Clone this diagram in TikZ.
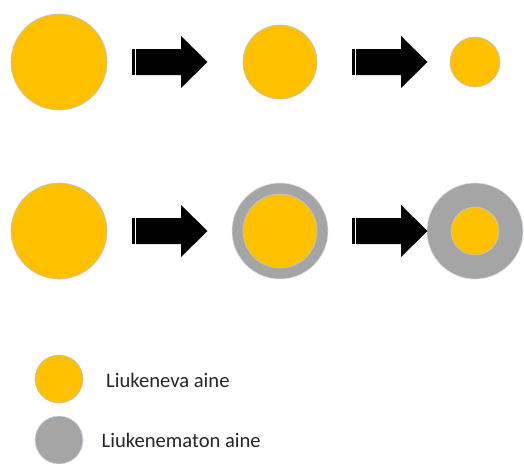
\documentclass[tikz,border=0pt]{standalone}
\usepackage{fontspec}
\setmainfont{Carlito}
\definecolor{gold}{HTML}{FFC000}
\definecolor{stone}{HTML}{A5A5A5}
\definecolor{rim}{HTML}{B4C7E7}
\definecolor{txt}{HTML}{262626}
\tikzset{
  ball/.style={circle, inner sep=0pt, fill=gold, draw=rim, line width=0.6pt},
  shell/.style={circle, inner sep=0pt, fill=stone, draw=rim!60!white, line width=0.6pt},
  legtext/.style={anchor=base west, inner sep=0pt, text=txt, font=\fontsize{20.6}{22}\selectfont},
  stripedarrow/.pic={
    \fill[black] (0,-13) rectangle (2.5,13);
    \fill[black] (4,-13) -- (49,-13) -- (49,-26) -- (75.5,0) -- (49,26) -- (49,13) -- (4,13) -- cycle;
  }
}
\begin{document}
\begin{tikzpicture}[x=1pt,y=-1pt]
\useasboundingbox (0,0) rectangle (524,463);
% row 1
\node[ball, minimum size=96pt] (a1) at (59,62) {};
\node[ball, minimum size=74pt] (a2) at (280,62) {};
\node[ball, minimum size=50pt] (a3) at (475,62) {};
\pic at (132,62) {stripedarrow};
\pic at (352,62) {stripedarrow};
% row 2
\node[ball, minimum size=96pt] (b1) at (59,231) {};
\node[shell, minimum size=96pt] (b2o) at (280,231) {};
\node[ball, minimum size=74pt] (b2) at (280,231) {};
\node[shell, minimum size=96pt] (b3o) at (475,231) {};
\node[ball, minimum size=48pt] (b3) at (475,231) {};
\pic at (132,231) {stripedarrow};
\pic at (352,231) {stripedarrow};
% legend
\node[ball, minimum size=48pt] (l1) at (59,379) {};
\node[shell, minimum size=48pt] (l2) at (59,440) {};
\node[legtext] (t1) at (106,387) {Liukeneva aine};
\node[legtext] (t2) at (101.5,447) {Liukenematon aine};
\end{tikzpicture}
\end{document}
